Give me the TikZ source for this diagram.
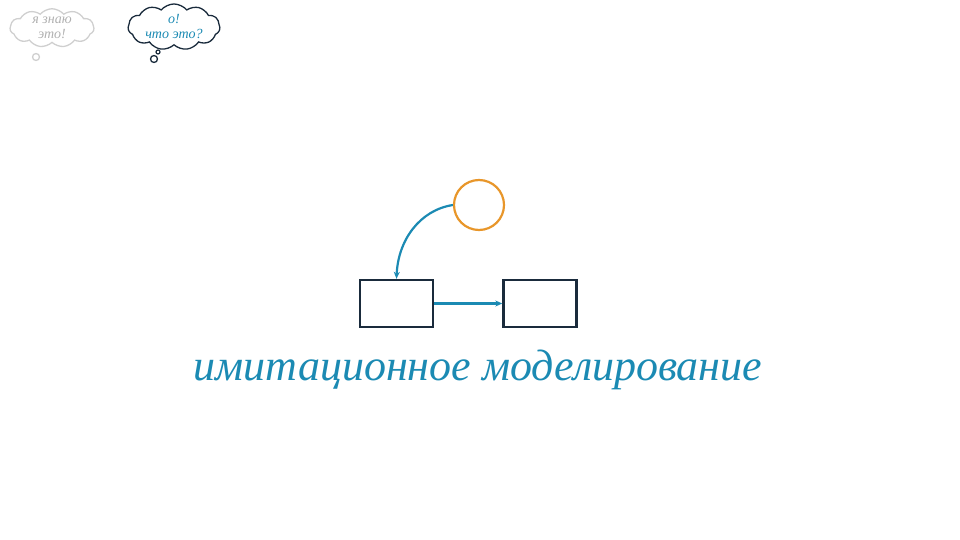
\documentclass[tikz,border=0pt]{standalone}
\usepackage{fontspec}
\setmainfont{Liberation Serif}
\usetikzlibrary{shapes.symbols,arrows.meta}
\definecolor{inkblue}{HTML}{1B8AB3}
\definecolor{navy}{HTML}{1A2B3C}
\definecolor{orng}{HTML}{E8962A}
\definecolor{lgray}{HTML}{CFCFCF}
\tikzset{
  boxnode/.style={draw=navy, line width=2.4pt, minimum width=73pt, minimum height=47pt, inner sep=0pt},
  conn/.style={draw=inkblue, line width=2.2pt, -{Stealth[length=7pt,width=6pt]}},
  cloudnode/.style={cloud, cloud puffs=11, cloud puff arc=100, aspect=2.2, inner sep=0pt, line width=1.3pt, align=center, font=\itshape\fontsize{14pt}{15pt}\selectfont},
}
\begin{document}
\begin{tikzpicture}[x=1pt,y=-1pt]
\useasboundingbox (0,0) rectangle (960,540);
% clouds
\node[cloudnode, draw=lgray, text=lgray!85!black, minimum width=84pt, minimum height=36pt] (c1) at (52,28) {я знаю\\это!};
\draw[lgray, line width=1.3pt] (36,57) circle (3.5pt);
\node[cloudnode, draw=navy, text=inkblue, minimum width=92pt, minimum height=36pt] (c2) at (174,27) {о!\\что это?};
\draw[navy, line width=1.2pt] (158,52) circle (2pt);
\draw[navy, line width=1.3pt] (154,59) circle (3.5pt);
% diagram
\node[draw=orng, line width=2.2pt, circle, minimum size=50pt, inner sep=0pt] (o) at (479,205) {};
\node[boxnode] (a) at (396.5,303.5) {};
\node[boxnode] (b) at (540,303.5) {};
\draw[conn] (o.west) .. controls (420,210) and (398,240) .. (a.north);
\draw[conn] (a.east) -- (b.west);
\node[text=inkblue, font=\itshape\fontsize{44pt}{44pt}\selectfont, anchor=base] (t) at (478,380) {имитационное моделирование};
\end{tikzpicture}
\end{document}
